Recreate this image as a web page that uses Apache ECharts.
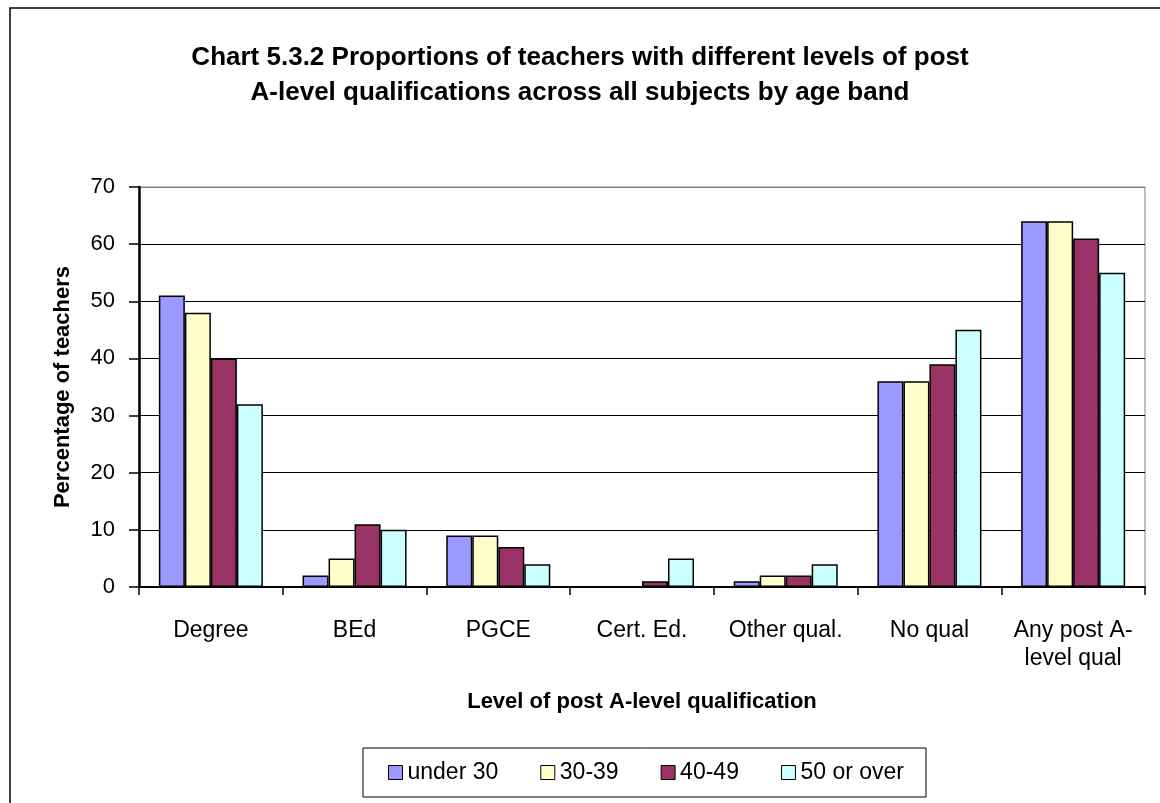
<!DOCTYPE html>
<html>
<head>
<meta charset="utf-8">
<title>Chart 5.3.2</title>
<script src="https://cdn.jsdelivr.net/npm/echarts@6/dist/echarts.min.js"></script>
<style>
    html, body { margin: 0; padding: 0; background: #fff; }
    #mainChart { width: 1160px; height: 803px; }
</style>
</head>
<body>
<div id="mainChart"></div>
<script>
'use strict';

// data
var categories = ['Degree', 'BEd', 'PGCE', 'Cert. Ed.', 'Other qual.', 'No qual', 'Any post A-\nlevel qual'];
var ageBands = ['under 30', '30-39', '40-49', '50 or over'];
var under30 = [51, 2, 9, 0, 1, 36, 64];
var age30to39 = [48, 5, 9, 0, 2, 36, 64];
var age40to49 = [40, 11, 7, 1, 2, 39, 61];
var age50plus = [32, 10, 4, 5, 4, 45, 55];
var yTicks = [0, 10, 20, 30, 40, 50, 60, 70];

var barColors = ['#9999FF', '#FFFFCC', '#993366', '#CCFFFF'];
var fontName = '"Liberation Sans", Arial, sans-serif';

window.onload = function() {
    var myChart = echarts.init(document.getElementById('mainChart'));

    var seriesValues = [under30, age30to39, age40to49, age50plus];
    var series = [];
    for (var i = 0; i < ageBands.length; i++) {
        series.push({
            name: ageBands[i],
            type: 'bar',
            data: seriesValues[i],
            barWidth: 26,
            barGap: '0%',
            animation: false,
            itemStyle: {
                color: barColors[i],
                borderColor: '#000',
                borderWidth: 1.5
            }
        });
    }

    // top grid line is the grey plot border, the others black
    var splitColors = [];
    for (var k = 0; k < yTicks.length; k++) {
        splitColors.push(k == yTicks.length - 1 ? '#808080' : '#000');
    }

    var option = {
        backgroundColor: '#fff',
        textStyle: { fontFamily: fontName, color: '#000' },
        title: {
            text: 'Chart 5.3.2 Proportions of teachers with different levels of post\nA-level qualifications across all subjects by age band',
            left: 'center',
            top: 40,
            padding: 0,
            textStyle: {
                fontFamily: fontName,
                fontSize: 26,
                fontWeight: 'bold',
                lineHeight: 35,
                color: '#000'
            }
        },
        legend: {
            data: ageBands,
            left: 363,
            top: 748,
            orient: 'horizontal',
            padding: [13, 22, 13, 25],
            itemGap: 42,
            itemWidth: 14,
            itemHeight: 14,
            borderColor: '#000',
            borderWidth: 1,
            icon: 'rect',
            itemStyle: { borderColor: '#000', borderWidth: 1 },
            textStyle: { fontFamily: fontName, fontSize: 23, color: '#000' }
        },
        graphic: [{
            type: 'polyline',
            shape: { points: [[10, 803], [10, 8], [1160, 8]] },
            style: { stroke: '#000', lineWidth: 1.5, fill: null },
            silent: true
        }],
        grid: {
            left: 139,
            right: 15,
            top: 187,
            bottom: 216,
            show: true,
            borderColor: '#808080',
            borderWidth: 1
        },
        xAxis: {
            type: 'category',
            data: categories,
            name: 'Level of post A-level qualification',
            nameLocation: 'middle',
            nameGap: 104,
            nameTextStyle: { fontFamily: fontName, fontSize: 22, fontWeight: 'bold', color: '#000' },
            axisLine: { lineStyle: { color: '#000', width: 2 } },
            axisTick: { show: true, length: 8, alignWithLabel: false, lineStyle: { color: '#000', width: 1.5 } },
            axisLabel: {
                interval: 0,
                margin: 30,
                fontFamily: fontName,
                fontSize: 23,
                lineHeight: 28,
                color: '#000'
            },
            splitLine: { show: false }
        },
        yAxis: {
            type: 'value',
            min: 0,
            max: 70,
            interval: 10,
            name: 'Percentage of teachers',
            nameLocation: 'middle',
            nameGap: 65,
            nameTextStyle: { fontFamily: fontName, fontSize: 22, fontWeight: 'bold', color: '#000' },
            axisLine: { show: true, lineStyle: { color: '#000', width: 2.5 } },
            axisTick: { show: true, inside: false, length: 10, lineStyle: { color: '#000', width: 1.5 } },
            axisLabel: {
                margin: 24,
                fontFamily: fontName,
                fontSize: 22,
                color: '#000'
            },
            splitLine: { show: true, lineStyle: { color: splitColors, width: 1.2 } }
        },
        series: series
    };

    myChart.setOption(option);
};
</script>
</body>
</html>
